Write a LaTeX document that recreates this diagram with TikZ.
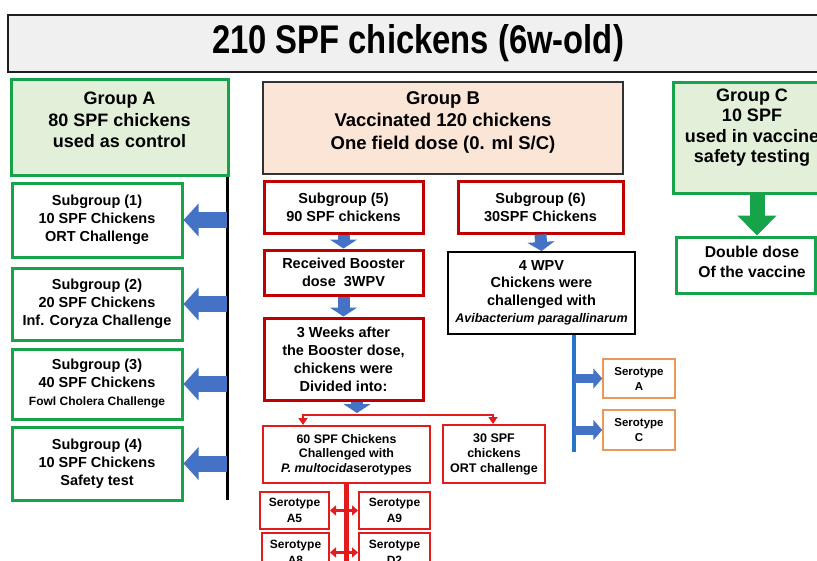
\documentclass[tikz,border=0pt]{standalone}
\usepackage{fontspec}
\setmainfont{Liberation Sans}
\usetikzlibrary{arrows.meta,calc}
\definecolor{gline}{RGB}{22,163,74}
\definecolor{gfill}{RGB}{226,240,217}
\definecolor{peach}{RGB}{251,229,214}
\definecolor{bline}{RGB}{50,50,50}
\definecolor{dred}{RGB}{192,0,0}
\definecolor{red2}{RGB}{226,28,28}
\definecolor{blueA}{RGB}{68,114,196}
\definecolor{blueL}{RGB}{38,115,200}
\definecolor{orng}{RGB}{237,150,90}
\definecolor{tline}{RGB}{30,30,30}
\definecolor{tfill}{RGB}{240,240,240}
\newcommand\fsz[2]{\fontsize{#1}{#2}\selectfont\bfseries}
\tikzset{
 gbox/.style={draw=gline, line width=3pt, fill=gfill, inner sep=0pt},
 gsub/.style={draw=gline, line width=3pt, fill=white, align=center, inner sep=0pt, font=\fsz{14.5}{18}},
 gtext/.style={align=center, inner sep=0pt, font=\fsz{18}{21.5}},
 bbox/.style={draw=bline, line width=2pt, fill=peach, inner sep=0pt},
 rsub/.style={draw=dred, line width=3pt, fill=white, align=center, inner sep=0pt, font=\fsz{14.5}{18}},
 rbox/.style={draw=red2, line width=2pt, fill=white, align=center, inner sep=0pt, font=\fsz{12.4}{14.5}},
 sbox/.style={rbox, font=\fsz{12}{16}},
 kbox/.style={draw=black, line width=2pt, fill=white, align=center, inner sep=0pt, font=\fsz{14.5}{17.5}},
 obox/.style={draw=orng, line width=1.5pt, fill=white, align=center, inner sep=0pt, font=\fsz{11.5}{15}},
 tbox/.style={draw=tline, line width=2.5pt, fill=tfill, inner sep=0pt},
 barrowL/.style={draw=blueA, line width=16pt, -{Triangle[length=15pt,width=32pt]}},
 barrowD/.style={draw=blueA, line width=12pt, -{Triangle[length=9pt,width=27pt]}},
 barrowR/.style={draw=blueA, line width=9pt, -{Triangle[length=9pt,width=20pt]}},
 garrow/.style={draw=gline, line width=15pt, -{Triangle[length=20pt,width=38pt]}},
 redln/.style={draw=red2, line width=2.5pt},
 redtip/.style={redln, -{Triangle[length=7pt,width=9pt]}},
 reddbl/.style={draw=red2, line width=3pt, {Triangle[length=6pt,width=10pt]}-{Triangle[length=6pt,width=10pt]}},
}
\begin{document}
\begin{tikzpicture}[x=1pt,y=-1pt]
\useasboundingbox (0,0) rectangle (817,560);
\clip (0,0) rectangle (817,560);
\fill[white] (0,0) rectangle (817,560);

% title
\node[tbox, minimum width=820pt, minimum height=57pt] (title) at (418,43.5)
  {\scalebox{0.82}[1]{\fontsize{40}{40}\selectfont\bfseries 210 SPF chickens (6w-old)}};

% Group A
\node[gbox, minimum width=217pt, minimum height=96pt] (ga) at (119.5,127) {};
\node[gtext] (gat) at (119.5,120) {Group A\\80 SPF chickens\\used as control};
\node[gsub, minimum width=170pt, minimum height=74pt] (s1) at (97,220) {Subgroup (1)\\10 SPF Chickens\\ORT Challenge};
\node[gsub, minimum width=170pt, minimum height=72pt] (s2) at (97,304) {Subgroup (2)\\20 SPF Chickens\\Inf. Coryza Challenge};
\node[gsub, minimum width=170pt, minimum height=70pt] (s3) at (97,384) {Subgroup (3)\\40 SPF Chickens\\{\fsz{12}{18}Fowl Cholera Challenge}};
\node[gsub, minimum width=170pt, minimum height=73pt] (s4) at (97,463.5) {Subgroup (4)\\10 SPF Chickens\\Safety test};
\coordinate (laend) at (227,500);
\draw[black, line width=3pt] (ga.south -| laend) -- (laend);
\draw[barrowL] (s1.east -| laend) -- (s1.east);
\draw[barrowL] (s2.east -| laend) -- (s2.east);
\draw[barrowL] (s3.east -| laend) -- (s3.east);
\draw[barrowL] (s4.east -| laend) -- (s4.east);

% Group B
\node[bbox, minimum width=360pt, minimum height=92pt] (gb) at (443,128) {};
\node[gtext, font=\fsz{18.5}{22.5}] (gbt) at (443,122) {Group B\\Vaccinated 120 chickens\\One field dose (0. ml S/C)};
\node[rsub, minimum width=159pt, minimum height=52pt] (s5) at (343.5,207) {Subgroup (5)\\90 SPF chickens};
\node[rsub, minimum width=165pt, minimum height=52pt] (s6) at (540.5,207) {Subgroup (6)\\30SPF Chickens};
\node[rsub, minimum width=159pt, minimum height=45pt] (bst) at (343.5,272.5) {Received Booster\\dose\ \ 3WPV};
\node[rsub, minimum width=159pt, minimum height=82pt] (wk) at (343.5,359) {3 Weeks after\\the Booster dose,\\chickens were\\Divided into:};
\draw[barrowD] (s5.south) -- (bst.north);
\draw[barrowD] (bst.south) -- (wk.north);
\coordinate (warr) at (357,413);
\draw[barrowD] (wk.south -| warr) -- (warr);

\node[rbox, minimum width=167pt, minimum height=57pt] (n60) at (346.5,454.5) {60 SPF Chickens\\Challenged with\\\textit{P. multocida}serotypes};
\node[rbox, minimum width=102pt, minimum height=58pt, font=\fsz{12.5}{15}] (n30) at (494,454) {30 SPF\\chickens\\ORT challenge};
\coordinate (spL) at (303,415);
\coordinate (spR) at (493,415);
\draw[redtip, line cap=rect] (spR) -- (spL) -- (n60.north -| spL);
\draw[redtip] (spR) -- (n30.north -| spR);

\node[sbox, minimum width=69pt, minimum height=37pt] (a5) at (294.5,510.5) {Serotype\\A5};
\node[sbox, minimum width=71pt, minimum height=37pt] (a9) at (394.5,510.5) {Serotype\\A9};
\node[sbox, minimum width=67pt, minimum height=39pt] (a8) at (295.5,552.5) {Serotype\\A8};
\node[sbox, minimum width=71pt, minimum height=39pt] (d2) at (394.5,552.5) {Serotype\\D2};
\coordinate (rbot) at (346.5,570);
\draw[red2, line width=5pt] (n60.south) -- (rbot);
\draw[reddbl] (a5.east) -- (a9.west);
\draw[reddbl] (a8.east) -- (d2.west);

\node[kbox, minimum width=187pt, minimum height=82pt] (wpv) at (541.5,293) {4 WPV\\Chickens were\\challenged with\\{\fsz{12.5}{17.5}\itshape Avibacterium paragallinarum}};
\draw[barrowD] (s6.south) -- (wpv.north);
\coordinate (blx) at (574,452);
\draw[blueL, line width=4pt] (wpv.south -| blx) -- (blx);
\node[obox, minimum width=72pt, minimum height=39pt] (sa) at (639,378.5) {Serotype\\A};
\node[obox, minimum width=72pt, minimum height=40pt] (sc) at (639,430) {Serotype\\C};
\draw[barrowR] (sa.west -| blx) -- (sa.west);
\draw[barrowR] (sc.west -| blx) -- (sc.west);

% Group C
\node[gbox, minimum width=158pt, minimum height=111pt] (gc) at (752,137.5) {};
\node[gtext, font=\fsz{18}{20.5}] (gct) at (752,127.5) {Group C\\10 SPF\\used in vaccine\\safety testing};
\node[gsub, minimum width=139pt, minimum height=56pt] (dd) at (745.5,265) {};
\node[gtext, font=\fsz{15.7}{20}] (ddt) at (752,262) {Double dose\\Of the vaccine};
\coordinate (garr) at (757,0);
\draw[garrow] (gc.south -| garr) -- (dd.north -| garr);
\end{tikzpicture}
\end{document}
